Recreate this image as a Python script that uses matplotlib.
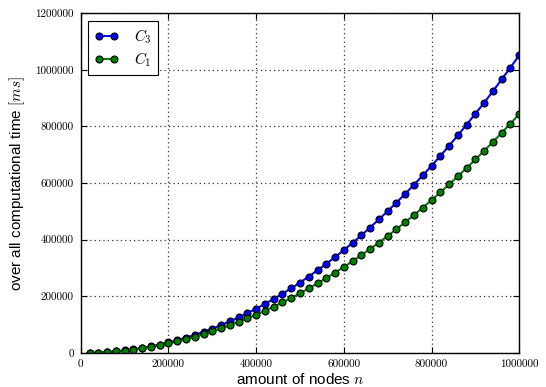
import matplotlib
matplotlib.use("Agg")
import matplotlib.pyplot as plt

# number of nodes n (every 20000 up to 1e6)
nodes = list(range(20000, 1000001, 20000))

# overall computational time in ms
time_c3 = [300, 1300, 3000, 5500, 8800, 12800, 17600, 23300, 29700, 37000,
           45100, 54000, 63800, 74500, 85900, 98300, 111500, 125700, 140600, 156300,
           173100, 190600, 209200, 228500, 248700, 269900, 292000, 315000, 338600, 363500,
           388900, 415700, 443000, 471700, 500900, 531000, 562100, 594100, 627100, 661000,
           695800, 731700, 768500, 806300, 845100, 883900, 924600, 966300, 1008000, 1051700]
time_c1 = [300, 1400, 3000, 5400, 8400, 12100, 16500, 21600, 27300, 33700,
           40800, 48600, 57000, 66100, 75900, 86400, 97500, 109300, 121800, 135000,
           148800, 163300, 178500, 194300, 210900, 228100, 246000, 264500, 283800, 303700,
           324200, 345500, 367400, 390000, 413300, 437300, 461900, 487200, 513200, 539800,
           567200, 595200, 623900, 653200, 683200, 713900, 745300, 777400, 810100, 843500]

plt.rcParams['mathtext.fontset'] = 'cm'

fig = plt.figure(figsize=(5.46, 3.87), dpi=100)
ax = fig.add_axes([0.148, 0.088, 0.803, 0.878])

ax.plot(nodes, time_c3, color='b', lw=1.5, marker='o', ms=5,
        mfc='b', mec='k', mew=0.8, label='$C_3$')
ax.plot(nodes, time_c1, color='g', lw=1.5, marker='o', ms=5,
        mfc='g', mec='k', mew=0.8, label='$C_1$')

ax.set_xlim(0, 1000000)
ax.set_ylim(0, 1200000)
ax.set_xticks(range(0, 1000001, 200000))
ax.set_yticks(range(0, 1200001, 200000))
ax.ticklabel_format(style='plain')
for lab in ax.get_xticklabels() + ax.get_yticklabels():
    lab.set_family('cmr10')
    lab.set_fontsize(8)

ax.tick_params(direction='in', top=True, right=True, length=4, width=0.8, pad=5)
ax.grid(True, color='#333333', linestyle=(0, (1, 2.5)), linewidth=0.9)
for s in ax.spines.values():
    s.set_linewidth(1.0)

ax.set_xlabel('amount of nodes $n$', fontsize=11, family='Liberation Sans', labelpad=2)
ax.set_ylabel('over all computational time $[ms]$', fontsize=11,
              family='Liberation Sans', labelpad=6)

leg = ax.legend(loc='upper left', numpoints=2, fancybox=False, framealpha=1,
                edgecolor='k', fontsize=11, handlelength=1.6, handletextpad=1.0,
                borderpad=0.4, labelspacing=0.3, borderaxespad=0.5)
leg.get_frame().set_linewidth(0.8)

fig.savefig('out.png', dpi=100)
